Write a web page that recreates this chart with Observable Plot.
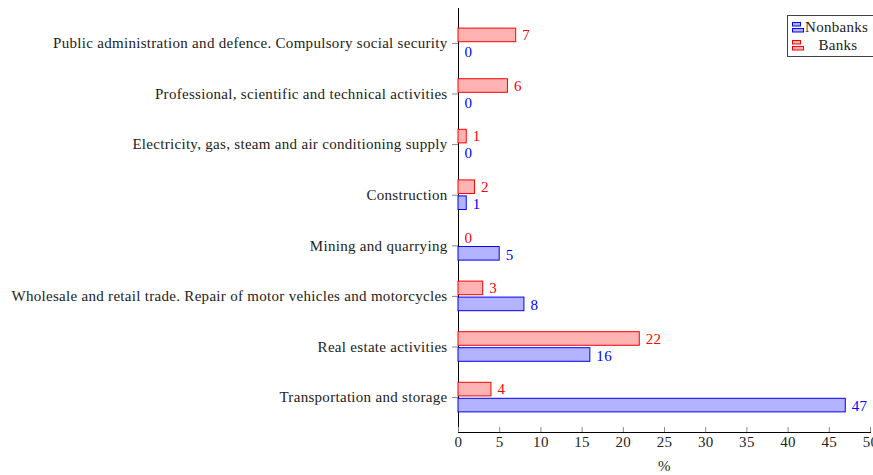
<!DOCTYPE html>
<html>
<head>
<meta charset="utf-8">
<script src="https://cdn.jsdelivr.net/npm/d3@7"></script>
<script src="https://cdn.jsdelivr.net/npm/@observablehq/plot@0.6"></script>
<style>
  body { margin: 0; overflow: hidden; background: #fff; }
  #chart { position: relative; width: 873px; height: 475px; }
  .legend {
    position: absolute; left: 787px; top: 15px; width: 95px; height: 40px;
    border: 1px solid #444; background: #fff;
    font-family: "Liberation Serif", serif; font-size: 15px; letter-spacing: 0.3px; color: #222;
  }
  .legend .row { display: flex; align-items: center; height: 18px; padding-left: 3px; }
  .legend .row:first-child { margin-top: 2px; }
  .legend .row span { flex: 1; text-align: center; margin-right: 12px; }
  .legend .row:first-child span { text-align: left; margin-right: 0; flex: none; }
</style>
</head>
<body>
<div id="chart"></div>
<script>
// categories, top to bottom
const categories = [
  "Public administration and defence. Compulsory social security",
  "Professional, scientific and technical activities",
  "Electricity, gas, steam and air conditioning supply",
  "Construction",
  "Mining and quarrying",
  "Wholesale and retail trade. Repair of motor vehicles and motorcycles",
  "Real estate activities",
  "Transportation and storage"
]
const banks = [7, 6, 1, 2, 0, 3, 22, 4]
const nonbanks = [0, 0, 0, 1, 5, 8, 16, 47]
const xTicks = [0, 5, 10, 15, 20, 25, 30, 35, 40, 45, 50]

const bankRows = categories.map((c, i) => ({category: c, value: banks[i]}))
const nonbankRows = categories.map((c, i) => ({category: c, value: nonbanks[i]}))

let chart = Plot.plot({
  width: 873,
  height: 475,
  marginLeft: 458,
  marginRight: 3,
  marginTop: 8,
  marginBottom: 43,
  style: {fontFamily: "Liberation Serif", fontSize: "15px", letterSpacing: "0.3px", color: "#222", background: "white"},
  x: {domain: [0, 50]},
  y: {domain: categories, paddingInner: 0, paddingOuter: 0.19, round: false},
  marks: [
    // ejes primero, las barras en cero quedan encima
    Plot.frame({anchor: "left", stroke: "black"}),
    Plot.frame({anchor: "bottom", stroke: "black"}),
    Plot.axisY({tickSize: 6, tickPadding: 5, stroke: "#888", label: null}),
    Plot.axisX({ticks: xTicks, tickSize: 5, dy: -5, stroke: "#888", tickFormat: () => "", label: null}),
    Plot.axisX({ticks: xTicks, tickSize: 0, tickPadding: 4, label: "%", labelAnchor: "center", labelArrow: false, labelOffset: 38}),
    Plot.barX(bankRows, {x: "value", y: "category", fill: "#ffb3b3", stroke: "red", insetTop: 10.5, insetBottom: 26.5}),
    Plot.barX(nonbankRows, {x: "value", y: "category", fill: "#b3b3ff", stroke: "blue", insetTop: 26.5, insetBottom: 10.5}),
    Plot.text(bankRows, {x: "value", y: "category", text: "value", dx: 6, dy: -8, textAnchor: "start", fill: "red"}),
    Plot.text(nonbankRows, {x: "value", y: "category", text: "value", dx: 6, dy: 9, textAnchor: "start", fill: "blue"})
  ]
})

d3.select('#chart').append(() => chart)

// legend (pgfplots style, top right)
const legendItems = [
  {name: "Nonbanks", fill: "#b3b3ff", stroke: "blue"},
  {name: "Banks", fill: "#ffb3b3", stroke: "red"}
]
const legend = d3.select('#chart').append('div').attr('class', 'legend')
legendItems.forEach(item => {
  const row = legend.append('div').attr('class', 'row')
  const svg = row.append('svg').attr('width', 14).attr('height', 14)
  svg.append('rect').attr('x', 1.5).attr('y', 2.5).attr('width', 8).attr('height', 3.5)
    .attr('fill', item.fill).attr('stroke', item.stroke)
  svg.append('rect').attr('x', 1.5).attr('y', 8.5).attr('width', 11).attr('height', 3.5)
    .attr('fill', item.fill).attr('stroke', item.stroke)
  row.append('span').text(item.name)
})
</script>
</body>
</html>
